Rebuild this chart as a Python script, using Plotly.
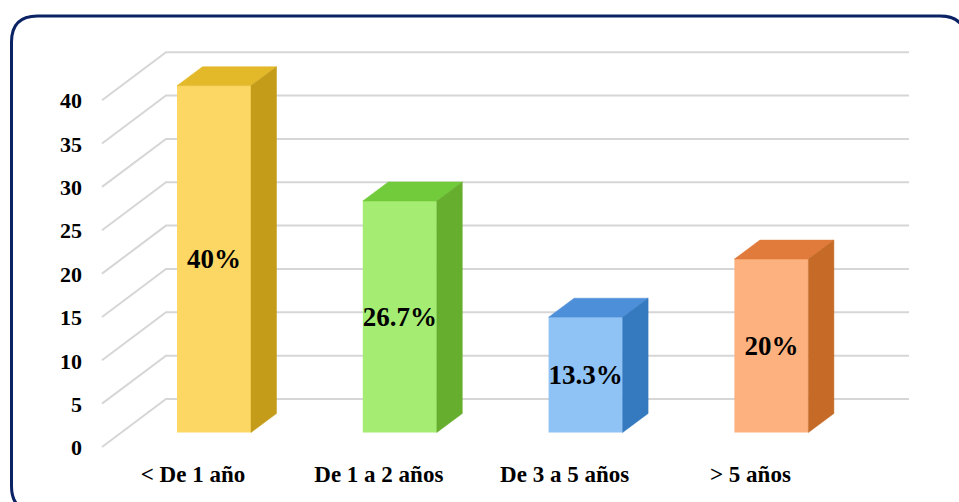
import plotly.graph_objects as go

categories = ["< De 1 año", "De 1 a 2 años", "De 3 a 5 años", "> 5 años"]
values = [40, 26.7, 13.3, 20]
value_labels = ["40%", "26.7%", "13.3%", "20%"]
y_ticks = [0, 5, 10, 15, 20, 25, 30, 35, 40]

front_colors = ["#FDD764", "#A5EC73", "#8FC2F5", "#FDB17E"]
top_colors = ["#E3B829", "#72CB3A", "#4D8FD8", "#E07B3C"]
side_colors = ["#C49C1A", "#66AE2D", "#357ABF", "#C56A27"]

W, H = 959, 502
px_per_unit = 8.67  # vertical pixels per value unit
px_per_cat = 185.8  # horizontal pixels between bars
x0_px, y0_px = 214, 432.5  # where category 0 / value 0 land

bar_width = 74 / px_per_cat
# bar depth
dx = 25.5 / px_per_cat
dy = 19 / px_per_unit
# walls: front and back edge of the floor relative to the bars
wall_front_x = (102 - x0_px) / px_per_cat
wall_back_x = (166 - x0_px) / px_per_cat
wall_right_x = (909 - x0_px) / px_per_cat
wall_front_dy = -14.5 / px_per_unit
wall_back_dy = 33.5 / px_per_unit

fig = go.Figure()

# top and side faces come from the same values as the bars
for i, v in enumerate(values):
    left = i - bar_width / 2
    right = i + bar_width / 2
    fig.add_trace(go.Scatter(
        x=[left, right, right + dx, left + dx, left],
        y=[v, v, v + dy, v + dy, v],
        mode="lines", fill="toself", fillcolor=top_colors[i],
        line=dict(width=0.5, color=top_colors[i]),
        hoverinfo="skip", showlegend=False,
    ))
    fig.add_trace(go.Scatter(
        x=[right, right + dx, right + dx, right, right],
        y=[0, dy, v + dy, v, 0],
        mode="lines", fill="toself", fillcolor=side_colors[i],
        line=dict(width=0.5, color=side_colors[i]),
        hoverinfo="skip", showlegend=False,
    ))

fig.add_trace(go.Bar(
    x=list(range(len(categories))),
    y=values,
    width=bar_width,
    marker=dict(color=front_colors, line=dict(width=0)),
    text=value_labels,
    textposition="inside",
    insidetextanchor="middle",
    textangle=0,
    constraintext="none",
    textfont=dict(family="Liberation Serif", size=27, color="#000000", weight="bold"),
    hoverinfo="skip",
    showlegend=False,
))

# gridlines go below the traces, so shapes rather than scatter
for t in y_ticks:
    fig.add_shape(
        type="path",
        path=f"M {wall_front_x} {t + wall_front_dy} L {wall_back_x} {t + wall_back_dy} "
             f"L {wall_right_x} {t + wall_back_dy}",
        xref="x", yref="y", layer="below",
        line=dict(color="#D6D6D6", width=2),
    )

# rounded frame, runs off the right and bottom of the page
def px(x):
    return x / W

def py(y):
    return 1 - y / H

fl, ft, fr, fb, rad = 11.5, 16, 966, 512, 26
frame = (
    f"M {px(fl)} {py(fb - rad)} L {px(fl)} {py(ft + rad)} "
    f"Q {px(fl)} {py(ft)} {px(fl + rad)} {py(ft)} "
    f"L {px(fr - rad)} {py(ft)} Q {px(fr)} {py(ft)} {px(fr)} {py(ft + rad)} "
    f"L {px(fr)} {py(fb - rad)} Q {px(fr)} {py(fb)} {px(fr - rad)} {py(fb)} "
    f"L {px(fl + rad)} {py(fb)} Q {px(fl)} {py(fb)} {px(fl)} {py(fb - rad)} Z"
)
fig.add_shape(type="path", path=frame, xref="paper", yref="paper", layer="below",
              line=dict(color="#0B2265", width=3))

fig.update_layout(
    width=W, height=H,
    margin=dict(l=0, r=0, t=0, b=0),
    paper_bgcolor="#FFFFFF",
    plot_bgcolor="#FFFFFF",
    xaxis=dict(
        range=[-x0_px / px_per_cat, (W - x0_px) / px_per_cat],
        tickvals=list(range(len(categories))),
        ticktext=categories,
        ticks="", showgrid=False, zeroline=False, showline=False,
        anchor="free", position=(H - 458) / H,
        ticklabelshift=-21,
        tickfont=dict(family="Liberation Serif", size=23, color="#000000", weight="bold"),
    ),
    yaxis=dict(
        range=[-(H - y0_px) / px_per_unit, y0_px / px_per_unit],
        tickvals=y_ticks,
        ticks="", showgrid=False, zeroline=False, showline=False,
        anchor="free", position=82 / W,
        ticklabelshift=15,
        tickfont=dict(family="Liberation Serif", size=22, color="#000000", weight="bold"),
    ),
)

# default page margin would push the chart 8px in
fig.write_html("out.html", config=dict(displayModeBar=False),
               post_script="document.body.style.margin='0';")
